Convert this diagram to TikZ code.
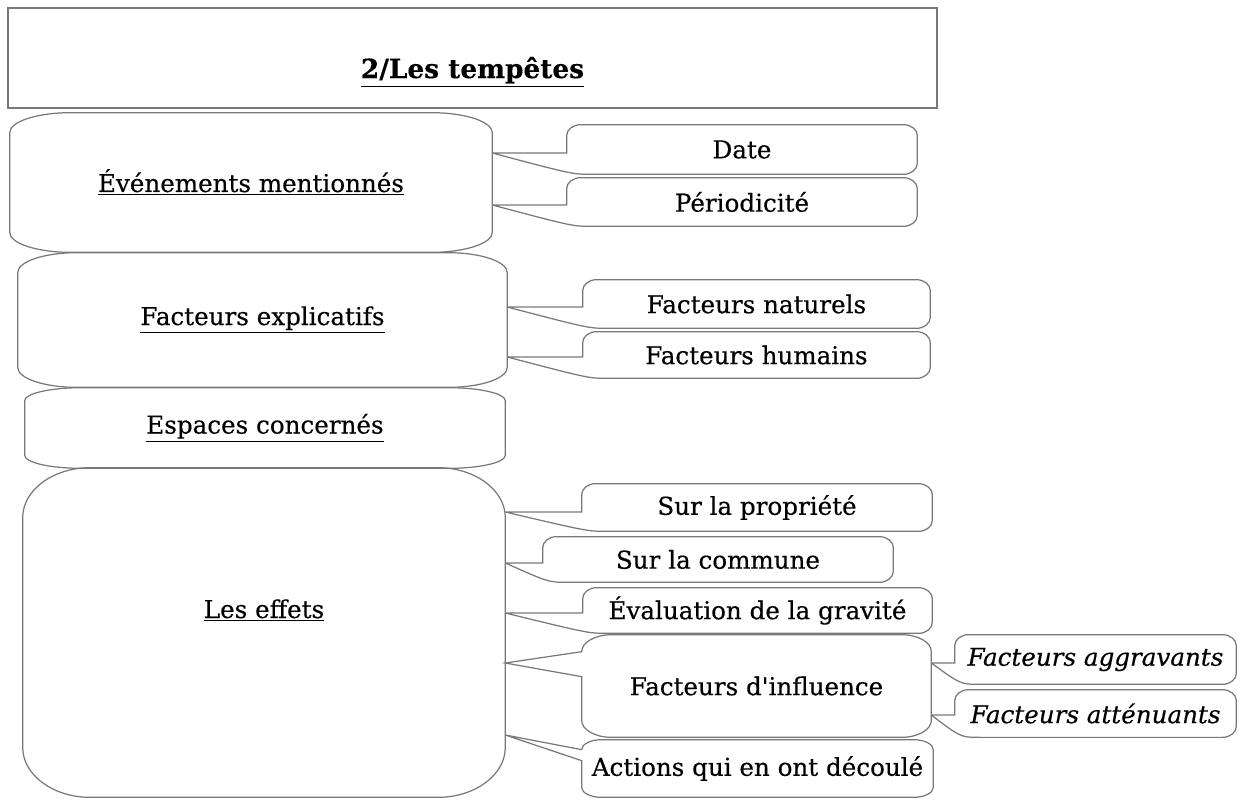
\documentclass[tikz,border=0pt]{standalone}
\usepackage{fontspec}
\setmainfont{DejaVu Serif}[FakeBold=0.4]
\usepackage{tikz}

\definecolor{gristrait}{RGB}{120,120,120}

% grande boite aux coins arrondis (noeud, rx, ry)
\newcommand{\contour}[3]{%
  \draw[trait] ([xshift=#2]#1.north west) -- ([xshift=-#2]#1.north east)
    arc[start angle=90, end angle=0, x radius=#2, y radius=#3]
    -- ([yshift=#3]#1.south east)
    arc[start angle=0, end angle=-90, x radius=#2, y radius=#3]
    -- ([xshift=#2]#1.south west)
    arc[start angle=270, end angle=180, x radius=#2, y radius=#3]
    -- ([yshift=-#3]#1.north west)
    arc[start angle=180, end angle=90, x radius=#2, y radius=#3] -- cycle;}

% bulle avec pointe vers le coin bas gauche (noeud, pointe)
\newcommand{\bullebas}[2]{%
  \draw[trait] (#2) -- (#1.west |- #2) -- ([yshift=-0.22cm]#1.north west)
    arc[start angle=180, end angle=90, x radius=0.28cm, y radius=0.22cm]
    -- ([xshift=-0.28cm]#1.north east)
    arc[start angle=90, end angle=0, x radius=0.28cm, y radius=0.22cm]
    -- ([yshift=0.22cm]#1.south east)
    arc[start angle=0, end angle=-90, x radius=0.28cm, y radius=0.22cm]
    -- ([xshift=0.5cm]#1.south west)
    .. controls ([xshift=0.12cm]#1.south west) .. (#2);}

% bulle avec pointe sur le cote gauche (noeud, pointe, haut, bas, rx, ry)
\newcommand{\bullemilieu}[6]{%
  \draw[trait] (#2) -- ([yshift=-#3]#1.north west) -- ([yshift=-#6]#1.north west)
    arc[start angle=180, end angle=90, x radius=#5, y radius=#6]
    -- ([xshift=-#5]#1.north east)
    arc[start angle=90, end angle=0, x radius=#5, y radius=#6]
    -- ([yshift=#6]#1.south east)
    arc[start angle=0, end angle=-90, x radius=#5, y radius=#6]
    -- ([xshift=#5]#1.south west)
    arc[start angle=270, end angle=180, x radius=#5, y radius=#6]
    -- ([yshift=-#4]#1.north west) -- cycle;}

\begin{document}
\begin{tikzpicture}[x=0.02cm, y=-0.02cm,
    every node/.style={inner sep=0pt, font=\fontsize{14}{16}\selectfont},
    trait/.style={draw=gristrait, line width=0.7pt}]
  \useasboundingbox (0,0) rectangle (1240,799);

  % titre
  \node[trait, minimum width=18.58cm, minimum height=2cm, text height=0.95cm, text depth=0.15cm,
    font=\fontsize{15}{18}\selectfont\bfseries] (titre) at (472.5,58) {\underline{2/Les tempêtes}};

  % grandes boites
  \node[minimum width=9.64cm, minimum height=2.78cm] (evts) at (251,182.5) {\underline{Événements mentionnés}};
  \node[minimum width=9.78cm, minimum height=2.68cm] (fact) at (262.5,320) {\underline{Facteurs explicatifs}};
  \node[minimum width=9.6cm, minimum height=1.6cm] (esp) at (265,428) {\underline{Espaces concernés}};
  \node[minimum width=9.64cm, minimum height=6.58cm, text height=0.4cm, text depth=0.98cm] (eff) at (264,632.5) {\underline{Les effets}};
  \contour{evts}{1.22cm}{0.4cm}
  \contour{fact}{1.18cm}{0.4cm}
  \contour{esp}{1.14cm}{0.26cm}
  \contour{eff}{1.35cm}{1.0cm}

  % bulles
  \node[minimum width=7cm, minimum height=0.98cm] (date) at (742,149.5) {Date};
  \node[minimum width=7cm, minimum height=0.96cm] (perio) at (742,202) {Périodicité};
  \node[minimum width=6.94cm, minimum height=0.96cm] (nat) at (756.5,304) {Facteurs naturels};
  \node[minimum width=6.94cm, minimum height=0.92cm] (hum) at (756.5,355) {Facteurs humains};
  \node[minimum width=7cm, minimum height=0.94cm] (prop) at (757,507.5) {Sur la propriété};
  \node[minimum width=7cm, minimum height=0.9cm] (comm) at (718,559.5) {Sur la commune};
  \node[minimum width=6.98cm, minimum height=0.9cm] (grav) at (757.5,610.5) {Évaluation de la gravité};
  \node[minimum width=6.98cm, minimum height=2.04cm] (infl) at (756.5,686) {Facteurs d\textquotesingle influence};
  \node[minimum width=5.62cm, minimum height=0.98cm] (aggr) at (1095.5,659.5) {\itshape Facteurs aggravants};
  \node[minimum width=5.62cm, minimum height=0.94cm] (atten) at (1095.5,713.5) {\itshape Facteurs atténuants};
  \node[minimum width=7.02cm, minimum height=1.14cm] (actions) at (757.5,768.5) {Actions qui en ont découlé};

  % pointes
  \coordinate (p-date) at (evts.east |- 0,153);
  \coordinate (p-perio) at (evts.east |- 0,205);
  \coordinate (p-nat) at (fact.east |- 0,307);
  \coordinate (p-hum) at (fact.east |- 0,357);
  \coordinate (p-prop) at (eff.east |- 0,512);
  \coordinate (p-comm) at (eff.east |- 0,563);
  \coordinate (p-grav) at (eff.east |- 0,613);
  \coordinate (p-infl) at (eff.east |- 0,663);
  \coordinate (p-actions) at (eff.east |- 0,735);
  \coordinate (p-aggr) at (infl.east |- 0,663);
  \coordinate (p-atten) at (infl.east |- 0,715);

  \bullebas{date}{p-date}
  \bullebas{perio}{p-perio}
  \bullebas{nat}{p-nat}
  \bullebas{hum}{p-hum}
  \bullebas{prop}{p-prop}
  \bullebas{comm}{p-comm}
  \bullebas{grav}{p-grav}
  \bullemilieu{infl}{p-infl}{0.34cm}{0.84cm}{0.6cm}{0.34cm}
  \bullemilieu{actions}{p-actions}{0.2cm}{0.42cm}{0.4cm}{0.2cm}
  \bullebas{aggr}{p-aggr}
  \bullebas{atten}{p-atten}
\end{tikzpicture}
\end{document}
